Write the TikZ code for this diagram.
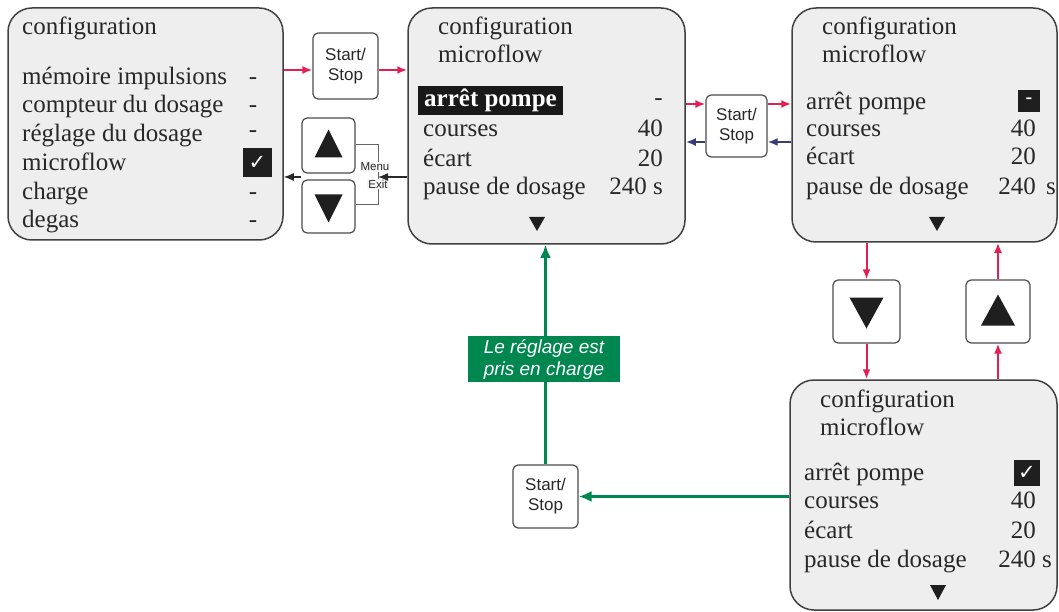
\documentclass[tikz,border=0pt]{standalone}
\usepackage{fontspec}
\setmainfont{Liberation Serif}
\newfontfamily\sansf{Liberation Sans}
\newfontfamily\symf{DejaVu Sans}
\usetikzlibrary{arrows.meta,calc}
\definecolor{redar}{RGB}{228,30,80}
\definecolor{bluear}{RGB}{55,60,120}
\definecolor{greenar}{RGB}{0,135,80}
\definecolor{boxfill}{RGB}{238,238,238}
\definecolor{ink}{RGB}{40,40,40}
\begin{document}
\begin{tikzpicture}[x=1pt,y=-1pt,
  screen/.style={draw=black!75, line width=1.5pt, rounded corners=24pt, fill=boxfill, inner sep=0pt},
  keybox/.style={draw=black!70, line width=1.2pt, rounded corners=5pt, fill=white, inner sep=0pt, align=center, text=ink, font=\sansf\fontsize{17}{20}\selectfont},
  txt/.style={anchor=base west, inner sep=0pt, text=ink, font=\fontsize{25}{28}\selectfont},
  val/.style={anchor=base east, inner sep=0pt, text=ink, font=\fontsize{25}{28}\selectfont},
  dsh/.style={anchor=base, inner sep=0pt, text=ink, font=\fontsize{25}{28}\selectfont},
  chk/.style={fill=black!88, text=white, minimum size=#1, inner sep=0pt, font=\symf\fontsize{21}{21}\selectfont},
  hl/.style={fill=black!90, text=white, inner xsep=6pt, minimum height=23pt, font=\bfseries\fontsize{25}{28}\selectfont},
  arr/.style={-{Latex[length=10pt,width=8pt]}, line width=2pt},
  lbl/.style={fill=greenar, text=white, align=center, inner sep=0pt, minimum width=152pt, minimum height=46pt, font=\sansf\itshape\fontsize{19}{22}\selectfont},
  small/.style={inner sep=0pt, text=ink, font=\sansf\fontsize{11.5}{12}\selectfont}
]
\useasboundingbox (0,0) rectangle (1059,612);

% screens
\node[screen, minimum width=275pt, minimum height=232pt] (box1) at (145.5,124) {};
\node[screen, minimum width=277pt, minimum height=236pt] (box2) at (546.5,126) {};
\node[screen, minimum width=265pt, minimum height=234pt] (box3) at (924.5,125) {};
\node[screen, minimum width=267pt, minimum height=230pt] (box4) at (923.5,495) {};

% keys
\node[keybox, minimum width=65pt, minimum height=66pt] (ss1) at (345.5,66) {Start/\\Stop};
\node[keybox, minimum width=53pt, minimum height=55pt] (up1) at (328.5,145.5) {};
\node[keybox, minimum width=53pt, minimum height=53pt] (down1) at (328.5,206.5) {};
\node[keybox, minimum width=61pt, minimum height=62pt] (ss2) at (736.5,126) {Start/\\Stop};
\node[keybox, minimum width=67pt, minimum height=63pt] (downB) at (866.5,311.5) {};
\node[keybox, minimum width=64pt, minimum height=63pt] (upB) at (998,311.5) {};
\node[keybox, minimum width=65pt, minimum height=63pt] (ss3) at (545.5,496.5) {Start/\\Stop};

% triangles on keys
\fill[black!88, shift={(up1.center)}] (-14,12) -- (14,12) -- (0,-16) -- cycle;
\fill[black!88, shift={(down1.center)}] (-14,-12) -- (14,-12) -- (0,16) -- cycle;
\fill[black!88, shift={(downB.center)}] (-17,-14) -- (17,-14) -- (0,17) -- cycle;
\fill[black!88, shift={(upB.center)}] (-17,14) -- (17,14) -- (0,-17) -- cycle;

% Box 1 text
\node[txt] (b1h) at (22,35) {configuration};
\node[txt] (b1a) at (22,85) {mémoire impulsions};
\node[txt] (b1b) at (22,113) {compteur du dosage};
\node[txt] (b1c) at (22,142) {réglage du dosage};
\node[txt] (b1d) at (22,171) {microflow};
\node[txt] (b1e) at (22,200) {charge};
\node[txt] (b1f) at (22,228) {degas};
\node[dsh] (b1da) at (253,85) {-};
\node[dsh] (b1db) at (253,113) {-};
\node[dsh] (b1dc) at (253,138) {-};
\node[chk=29pt] (b1ck) at (257.5,162.5) {✓};
\node[dsh] (b1de) at (253,200) {-};
\node[dsh] (b1df) at (253,228) {-};

% Box 2 text
\node[txt] (b2h) at (438,35) {configuration};
\node[txt] (b2m) at (438,63) {microflow};
\node[hl, anchor=west] (b2a) at (418,100.5) {arrêt pompe};
\node[txt] (b2b) at (423,137) {courses};
\node[txt] (b2c) at (423,167) {écart};
\node[txt] (b2d) at (423,195) {pause de dosage};
\node[val] (b2va) at (663,106) {-};
\node[val] (b2vb) at (663,137) {40};
\node[val] (b2vc) at (663,167) {20};
\node[val] (b2vd) at (663,195) {240 s};
\fill[black!88] (529,217) -- (545,217) -- (537,231) -- cycle;

% Box 3 text
\node[txt] (b3h) at (822,35) {configuration};
\node[txt] (b3m) at (822,63) {microflow};
\node[txt] (b3a) at (806,110) {arrêt pompe};
\node[txt] (b3b) at (806,137) {courses};
\node[txt] (b3c) at (806,165) {écart};
\node[txt] (b3d) at (806,195) {pause de dosage};
\node[chk=22pt, font=\bfseries\fontsize{20}{20}\selectfont] (b3va) at (1029,101) {-};
\node[val] (b3vb) at (1036,137) {40};
\node[val] (b3vc) at (1036,165) {20};
\node[val] (b3vd) at (1036,195) {240};
\node[val] (b3vs) at (1056,195) {s};
\fill[black!88] (929,217) -- (945,217) -- (937,231) -- cycle;

% Box 4 text
\node[txt] (b4h) at (820,407) {configuration};
\node[txt] (b4m) at (820,435) {microflow};
\node[txt] (b4a) at (804,480) {arrêt pompe};
\node[txt] (b4b) at (804,508) {courses};
\node[txt] (b4c) at (804,538) {écart};
\node[txt] (b4d) at (804,567) {pause de dosage};
\node[chk=26pt] (b4va) at (1027,473) {✓};
\node[val] (b4vb) at (1036,508) {40};
\node[val] (b4vc) at (1036,538) {20};
\node[val] (b4vd) at (1052,567) {240 s};
\fill[black!88] (930,585) -- (946,585) -- (938,600) -- cycle;

% Menu/Exit bracket
\coordinate (brk) at (378,177);
\draw[black!60, line width=1pt] (up1.east |- 0,145) -- (378,145) -- (378,205) -- (down1.east |- 0,205);
\node[small, fill=boxfill!50, inner sep=1pt] (menu) at (375,167) {Menu};
\node[small, fill=boxfill!50, inner sep=1pt] (exit) at (378,184) {Exit};

% arrows
\draw[arr, redar] (box1.east |- 0,70) -- (ss1.west |- 0,70);
\draw[arr, redar] (ss1.east |- 0,70) -- (box2.west |- 0,70);
\draw[arr, ink, line width=1.3pt] (box2.west |- brk) -- (brk);
\draw[arr, ink, line width=1.3pt] (up1.west |- brk) -- (box1.east |- brk);

\draw[arr, redar] (box2.east |- 0,104) -- (ss2.west |- 0,104);
\draw[arr, redar] (ss2.east |- 0,104) -- (box3.west |- 0,104);
\draw[arr, bluear] (box3.west |- 0,142) -- (ss2.east |- 0,142);
\draw[arr, bluear] (ss2.west |- 0,142) -- (box2.east |- 0,142);

\draw[arr, redar] (box3.south -| downB.north) -- (downB.north);
\draw[arr, redar] (downB.south) -- (box4.north -| downB.south);
\draw[arr, redar] (box4.north -| upB.south) -- (upB.south);
\draw[arr, redar] (upB.north) -- (box3.south -| upB.north);

\draw[greenar, line width=3pt, -{Latex[length=13pt,width=11pt]}] (box4.west |- ss3.east) -- (ss3.east);
\draw[greenar, line width=3pt, -{Latex[length=13pt,width=11pt]}] (ss3.north) -- (box2.south -| ss3.north);
\node[lbl] (note) at (544,359) {Le réglage est\\pris en charge};
\end{tikzpicture}
\end{document}
